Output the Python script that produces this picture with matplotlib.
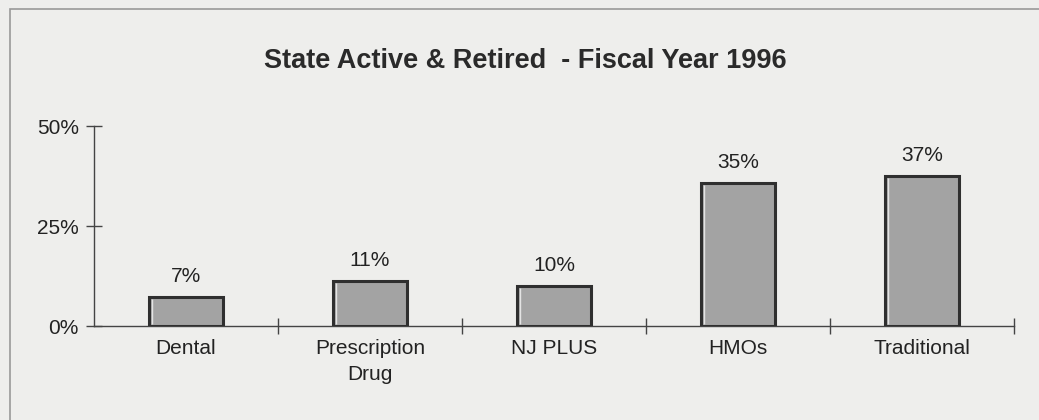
import matplotlib
matplotlib.use("Agg")
import matplotlib.pyplot as plt
from matplotlib.patches import Rectangle
import numpy as np

categories = ["Dental", "Prescription\nDrug", "NJ PLUS", "HMOs", "Traditional"]
values = [7.2, 11.2, 10.0, 35.7, 37.4]
value_labels = ["7%", "11%", "10%", "35%", "37%"]
y_ticks = [0, 25, 50]
y_tick_labels = ["0%", "25%", "50%"]
title = "State Active & Retired  - Fiscal Year 1996"

W, H = 1039, 420
bg = "#eeeeec"
fig = plt.figure(figsize=(W / 100, H / 100), dpi=100, facecolor=bg)
plt.rcParams["font.family"] = ["Liberation Sans", "DejaVu Sans"]

# frame border
fig.patches.append(Rectangle((10 / W, -0.1), 1.2, (H - 9) / H + 0.1, transform=fig.transFigure,
                             fill=False, edgecolor="#999999", lw=1.2))

ax = fig.add_axes([94 / W, 1 - 326 / H, (1014 - 94) / W, 200 / H])
ax.set_facecolor("none")
n = len(categories)
x = np.arange(n)
bw = 0.4
ax.bar(x, values, width=bw, color="#a3a3a3", edgecolor="#2f2f2f", linewidth=2.2, zorder=3)
# light inner highlight on left edge of each bar
for xi, v in zip(x, values):
    ax.plot([xi - bw / 2 + 0.013, xi - bw / 2 + 0.013], [0.4, v - 0.4], color="#e4e4e4",
            lw=1.0, zorder=4, solid_capstyle="butt")
for xi, v, lab in zip(x, values, value_labels):
    ax.annotate(lab, (xi, v), xytext=(0, 8), textcoords="offset points",
                ha="center", va="bottom", fontsize=15, color="#222222")

ax.set_xlim(-0.5, n - 0.5)
ax.set_ylim(0, 50)
for s in ["top", "right"]:
    ax.spines[s].set_visible(False)
for s in ["left", "bottom"]:
    ax.spines[s].set_color("#444444")
    ax.spines[s].set_linewidth(1.0)

ax.set_yticks(y_ticks)
ax.set_yticklabels(y_tick_labels, fontsize=15, color="#222222")
ax.set_xticks(np.arange(n) + 0.5)
ax.set_xticklabels([])
ax.set_xticks(x, minor=True)
ax.set_xticklabels(categories, minor=True, fontsize=15, color="#222222", linespacing=1.5)
ax.tick_params(axis="x", which="major", direction="inout", length=11, width=1, color="#444444")
ax.tick_params(axis="x", which="minor", length=0, pad=9)
ax.tick_params(axis="y", direction="inout", length=12, width=1, color="#444444", pad=5)

fig.text(525 / W, 1 - 61 / H, title, ha="center", va="center", fontsize=19.5,
         fontweight="bold", color="#2a2a2a")

fig.savefig("out.png", dpi=100, facecolor=bg)
